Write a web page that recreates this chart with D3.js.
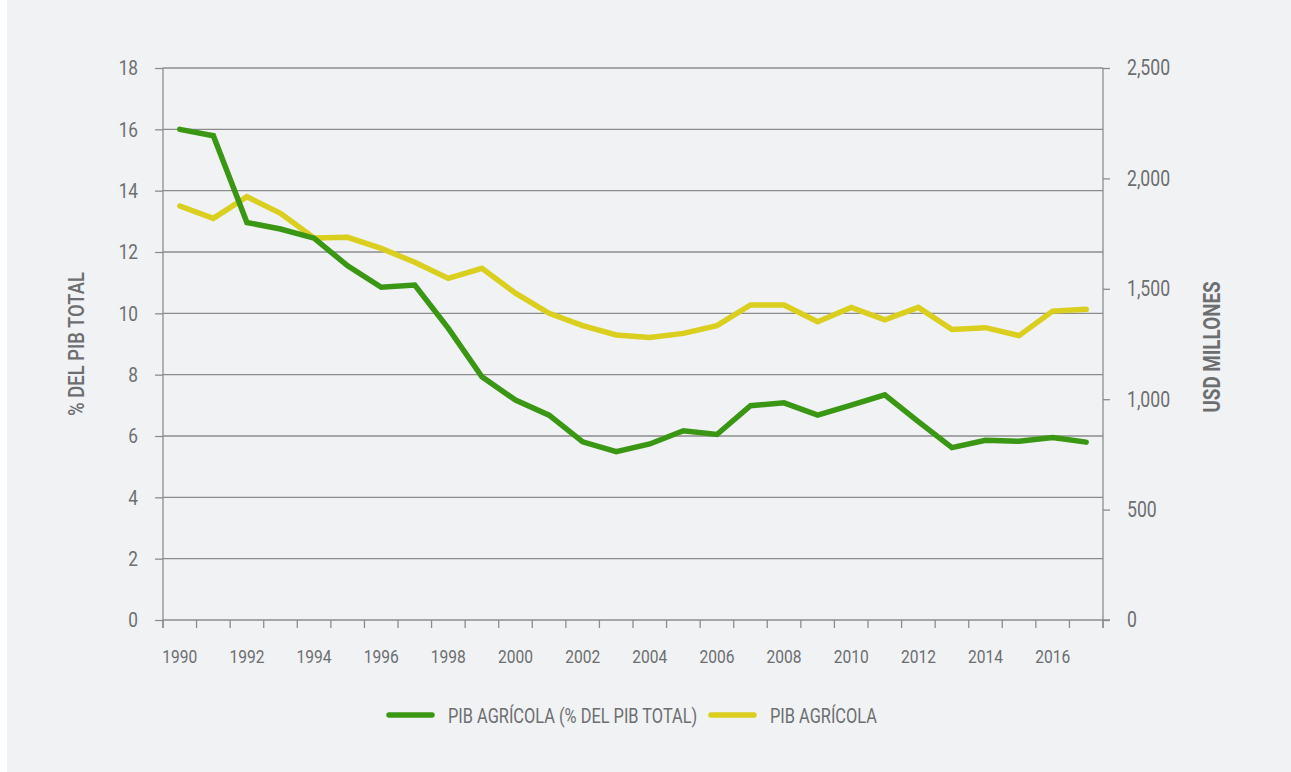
<!DOCTYPE html>
<html>
<head>
<meta charset="utf-8">
<script src="https://cdn.jsdelivr.net/npm/d3@7"></script>
<style>
  body { margin: 0; background: #fff; }
  svg { display: block; }
  text { font-family: Roboto, "DejaVu Sans", sans-serif; fill: #6d6e70; transform-box: fill-box; transform: scaleX(0.82); }
  text.end { transform-origin: 100% 50%; }
  text.mid { transform-origin: 50% 50%; }
  text.start { transform-origin: 0% 50%; }
  text.leg { transform: scaleX(0.78); }
</style>
</head>
<body>
<div id="chart"></div>
<script>
const years = d3.range(1990, 2018);

// % del PIB total (eje izquierdo)
const pibShare = [16.0, 15.79, 12.96, 12.75, 12.45, 11.55, 10.85, 10.92, 9.51, 7.93,
  7.17, 6.68, 5.81, 5.49, 5.74, 6.17, 6.05, 6.99, 7.08, 6.68,
  7.01, 7.34, 6.47, 5.62, 5.86, 5.83, 5.95, 5.80];

// PIB agrícola, USD millones (eje derecho)
const pibAgri = [1875, 1819, 1917, 1842, 1730, 1733, 1683, 1620, 1547, 1593,
  1480, 1389, 1333, 1291, 1280, 1298, 1333, 1427, 1427, 1351,
  1416, 1359, 1416, 1316, 1324, 1288, 1399, 1407];

const leftTicks = [0, 2, 4, 6, 8, 10, 12, 14, 16, 18];
const rightTicks = [0, 500, 1000, 1500, 2000, 2500];
const yearLabels = d3.range(1990, 2018, 2);

const width = 1291;
const height = 772;
const margin = { top: 68, right: 188, bottom: 152, left: 163 };

const green = "#3a9714";
const yellow = "#dacf1e";
const axisColor = "#8c8c8c";

const svg = d3
  .select("#chart")
  .append("svg")
  .attr("width", width)
  .attr("height", height);

svg.append("rect")
  .attr("x", 7).attr("y", 0)
  .attr("width", width - 7).attr("height", height)
  .attr("fill", "#f0f2f4");

const x = d3.scaleBand()
  .domain(years)
  .range([margin.left, width - margin.right]);

const yL = d3.scaleLinear([0, 18], [height - margin.bottom, margin.top]);
const yR = d3.scaleLinear([0, 2500], [height - margin.bottom, margin.top]);

// grid lines
svg.append("g")
  .selectAll("line")
  .data(leftTicks.slice(1))
  .join("line")
  .attr("x1", margin.left)
  .attr("x2", width - margin.right)
  .attr("y1", (d) => yL(d))
  .attr("y2", (d) => yL(d))
  .attr("stroke", axisColor)
  .attr("stroke-width", 1.3);

// left axis
svg.append("g")
  .attr("transform", `translate(${margin.left},0)`)
  .call(d3.axisLeft(yL).tickValues(leftTicks).tickSize(8).tickPadding(17))
  .call((g) => g.select(".domain").attr("d", `M0,${yL(18)}V${yL(0) + 8}`))
  .call((g) => g.selectAll("line, .domain").attr("stroke", axisColor).attr("stroke-width", 1.3))
  .call((g) => g.selectAll("text").attr("class", "end").attr("font-size", 21).attr("fill", "#6d6e70").attr("font-family", null));

// right axis
svg.append("g")
  .attr("transform", `translate(${width - margin.right},0)`)
  .call(d3.axisRight(yR).tickValues(rightTicks).tickSize(7).tickPadding(17).tickFormat(d3.format(",")))
  .call((g) => g.select(".domain").attr("d", `M0,${yR(2500)}V${yR(0) + 8}`))
  .call((g) => g.selectAll("line, .domain").attr("stroke", axisColor).attr("stroke-width", 1.3))
  .call((g) => g.selectAll("text").attr("class", "start").attr("font-size", 21.5).attr("fill", "#6d6e70").attr("font-family", null));

// x axis: ticks at band edges, labels every other year
const xg = svg.append("g")
  .attr("transform", `translate(0,${height - margin.bottom})`);

xg.append("line")
  .attr("x1", margin.left).attr("x2", width - margin.right + 7)
  .attr("stroke", axisColor).attr("stroke-width", 1.3);

xg.selectAll("line.tk")
  .data(years.concat([2018]))
  .join("line")
  .attr("class", "tk")
  .attr("x1", (d) => (d === 2018 ? x(2017) + x.bandwidth() : x(d)))
  .attr("x2", (d) => (d === 2018 ? x(2017) + x.bandwidth() : x(d)))
  .attr("y1", 0).attr("y2", 8)
  .attr("stroke", axisColor).attr("stroke-width", 1.3);

xg.selectAll("text")
  .data(yearLabels)
  .join("text")
  .attr("class", "mid")
  .attr("x", (d) => x(d) + x.bandwidth() / 2)
  .attr("y", 43)
  .attr("text-anchor", "middle")
  .attr("font-size", 19)
  .text((d) => d);

// axis titles
svg.append("g")
  .attr("transform", `translate(84,${(yL(0) + yL(18)) / 2}) rotate(-90)`)
  .append("text")
  .attr("class", "mid")
  .attr("text-anchor", "middle")
  .attr("font-size", 22.5)
  .attr("font-weight", 500)
  .text("% DEL PIB TOTAL");

svg.append("g")
  .attr("transform", `translate(1220,${(yL(0) + yL(18)) / 2 + 3}) rotate(-90)`)
  .append("text")
  .attr("class", "mid")
  .attr("text-anchor", "middle")
  .attr("font-size", 23)
  .attr("font-weight", "bold")
  .text("USD MILLONES");

// lines
const cx = (i) => x(years[i]) + x.bandwidth() / 2;

svg.append("path")
  .attr("fill", "none")
  .attr("stroke", yellow)
  .attr("stroke-width", 5.5)
  .attr("stroke-linecap", "round")
  .attr("d", d3.line().x((d, i) => cx(i)).y((d) => yR(d))(pibAgri));

svg.append("path")
  .attr("fill", "none")
  .attr("stroke", green)
  .attr("stroke-width", 5.5)
  .attr("stroke-linecap", "round")
  .attr("d", d3.line().x((d, i) => cx(i)).y((d) => yL(d))(pibShare));

// legend
const legend = [
  { label: "PIB AGRÍCOLA (% DEL PIB TOTAL)", color: green, x: 389 },
  { label: "PIB AGRÍCOLA", color: yellow, x: 711 },
];
const lg = svg.append("g").selectAll("g").data(legend).join("g")
  .attr("transform", (d) => `translate(${d.x},715)`);
lg.append("line")
  .attr("x1", 0).attr("x2", 43)
  .attr("stroke", (d) => d.color)
  .attr("stroke-width", 5.5)
  .attr("stroke-linecap", "round");
lg.append("text")
  .attr("class", "start leg")
  .attr("x", 59)
  .attr("y", 7.5)
  .attr("font-size", 21)
  .text((d) => d.label);
</script>
</body>
</html>
